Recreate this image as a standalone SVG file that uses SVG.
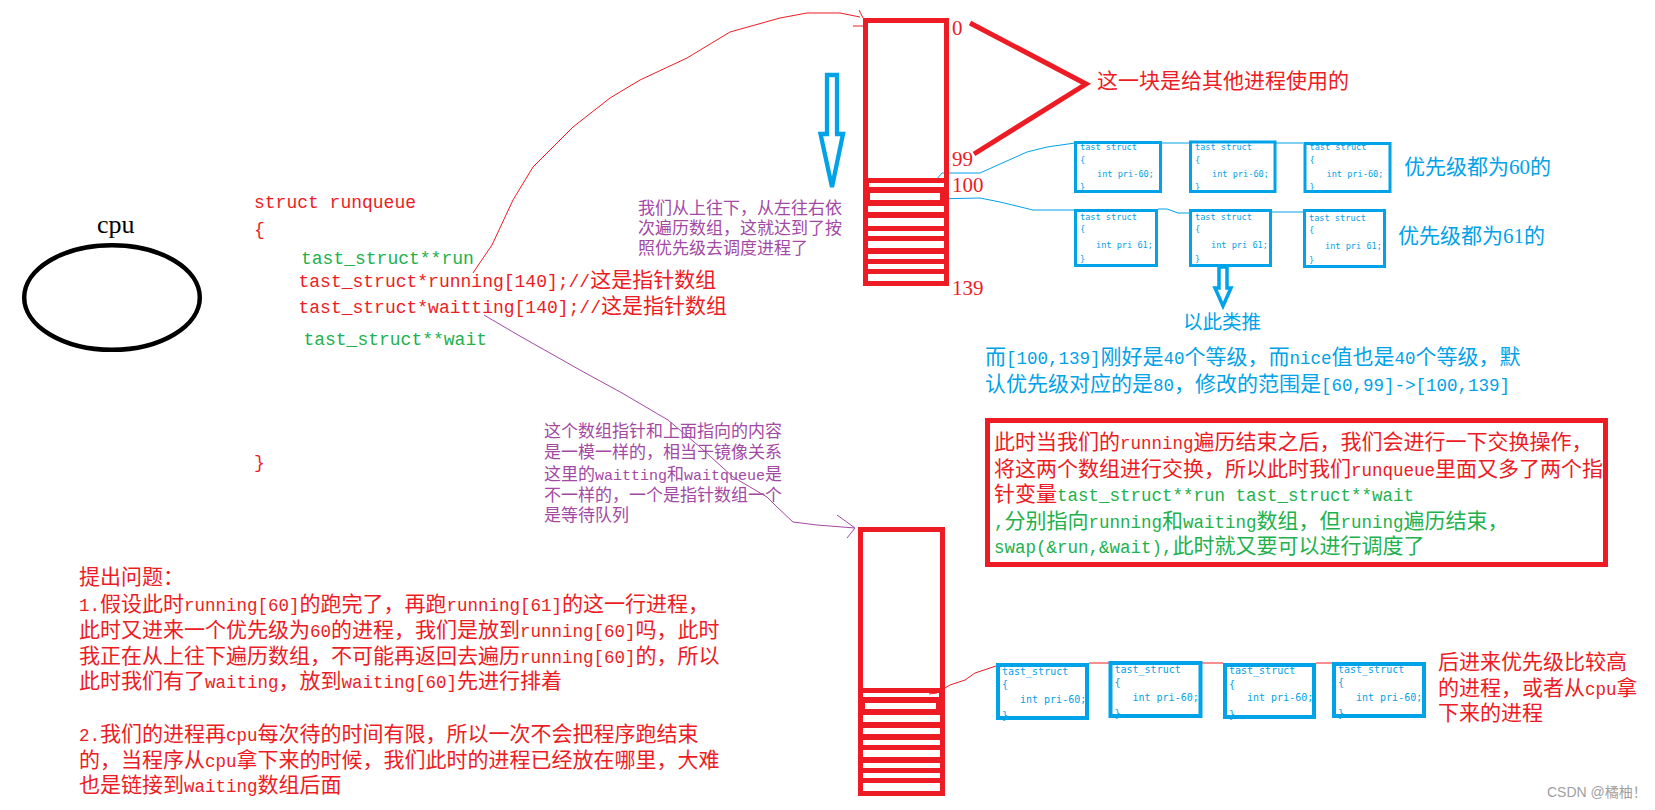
<svg xmlns="http://www.w3.org/2000/svg" width="1655" height="810" viewBox="0 0 1655 810">
<defs>
<style>
.cj{font-family:"Liberation Serif","Noto Sans CJK SC",sans-serif}
.mo{font-family:"Liberation Mono","Noto Sans CJK SC",monospace}
.l{font-family:"Liberation Mono",monospace;font-size:17.5px}
.l15{font-family:"Liberation Mono",monospace;font-size:15px}
.red{fill:#ed1c24}
.grn{fill:#22b14c}
.blu{fill:#00a2e8}
.pur{fill:#a349a4}
.num{font-family:"Liberation Serif",serif;font-size:21px;fill:#ed1c24}
.bx{font-family:"DejaVu Sans Mono",monospace;fill:#00a2e8}
.bxr{fill:none;stroke:#00a2e8}
.slit{fill:#fff}
.arr{fill:none;stroke:#ed1c24;stroke-width:5}
</style>
</defs>
<rect width="1655" height="810" fill="#fff"/>

<g id="connectors" fill="none">
  <path d="M473,273 L477,267 L492,245 L513,200 L533,167 L553,147 L573,127 L610,98 L640,80 L687,58 L730,32 L780,18 L807,13 L840,13 L860,17 M859,10 L863,18 M853,26 L863,26" stroke="#ed1c24" stroke-width="1"/>
  <path d="M484,315 L518,335 L580,370 L622,393 L668,420 L700,447 L733,477 L767,497 L777,507 L793,522 L817,525 L855,528 M837,515 L855,528 L847,538" stroke="#a349a4" stroke-width="1"/>
  <path d="M930,187 L942,173 L980,173 L1027,152 L1047,147 L1075,143" stroke="#00a2e8" stroke-width="1"/>
  <path d="M932,199 L980,198 L1000,202 L1033,210 L1075,210" stroke="#00a2e8" stroke-width="1"/>
  <path d="M1162,143 L1189,143 M1276,143 L1303,143" stroke="#00a2e8" stroke-width="1"/>
  <path d="M1158,209 L1167,209 L1178,213 L1189,213 M1272,212 L1303,212" stroke="#00a2e8" stroke-width="1"/>
  <path d="M929,694 L937,693 L945,688 L950,685 L965,680 L975,673 L987,669 L996,666" stroke="#ed1c24" stroke-width="1"/>
  <path d="M1089,663 L1109,663 M1202,663 L1223,663 M1316,663 L1332,663" stroke="#ed1c24" stroke-width="1"/>
  <polyline points="970,23 1086,84 974,154" class="arr"/>
  <polygon points="827,75 837,75 837,134 843,134 832,187 820.5,134 827,134" fill="#fff" stroke="#00a2e8" stroke-width="4.3"/>
  <polygon points="1219,267 1227,267 1227,288 1231,288 1223,306 1215,288 1219,288" fill="#fff" stroke="#00a2e8" stroke-width="3.5"/>
</g>

<g id="cpu">
  <ellipse cx="112" cy="297.5" rx="87.8" ry="52.3" fill="none" stroke="#000" stroke-width="4.5"/>
  <text x="97" y="233" font-family="Liberation Serif,serif" font-size="26" fill="#000">cpu</text>
</g>

<g id="runqueue" class="mo" font-size="18">
  <text x="254" y="208" class="red">struct runqueue</text>
  <text x="254" y="235" class="red">{</text>
  <text x="301" y="264" class="grn">tast_struct**run</text>
  <text x="298.5" y="287" class="red">tast_struct*running[140];//<tspan class="cj" font-size="21">这是指针数组</tspan></text>
  <text x="298.5" y="313" class="red">tast_struct*waitting[140];//<tspan class="cj" font-size="21">这是指针数组</tspan></text>
  <text x="303.4" y="345" class="grn">tast_struct**wait</text>
  <text x="254" y="468" class="red">}</text>
</g>

<g id="running-array">
  <rect x="863" y="178" width="86" height="108" fill="#ed1c24"/>
  <rect x="869" y="183" width="75" height="4" class="slit"/>
  <rect x="870" y="193" width="70" height="7" class="slit"/>
  <rect x="868" y="206" width="76" height="6" class="slit"/>
  <rect x="868" y="218" width="76" height="8" class="slit"/>
  <rect x="868" y="231" width="76" height="5" class="slit"/>
  <rect x="868" y="241" width="76" height="7" class="slit"/>
  <rect x="868" y="254" width="76" height="5" class="slit"/>
  <rect x="868" y="264" width="76" height="5" class="slit"/>
  <rect x="868" y="274" width="76" height="8" class="slit"/>
  <rect x="865.5" y="20.5" width="81" height="263" fill="none" stroke="#ed1c24" stroke-width="5"/>
  <text x="952" y="35" class="num">0</text>
  <text x="952" y="166" class="num">99</text>
  <text x="952" y="192" class="num">100</text>
  <text x="952" y="295" class="num">139</text>
</g>

<g id="waiting-array">
  <rect x="858" y="688" width="87" height="108" fill="#ed1c24"/>
  <rect x="863" y="693" width="76" height="4" class="slit"/>
  <rect x="865" y="703" width="71" height="6" class="slit"/>
  <rect x="863" y="715" width="77" height="7" class="slit"/>
  <rect x="863" y="728" width="77" height="6" class="slit"/>
  <rect x="863" y="740" width="77" height="5" class="slit"/>
  <rect x="863" y="750" width="77" height="7" class="slit"/>
  <rect x="863" y="763" width="77" height="5" class="slit"/>
  <rect x="863" y="773" width="77" height="5" class="slit"/>
  <rect x="863" y="783" width="77" height="8" class="slit"/>
  <rect x="860.5" y="529.5" width="82" height="264" fill="none" stroke="#ed1c24" stroke-width="5"/>
  <path d="M929,694 L937,693" stroke="#ed1c24" stroke-width="1"/>
</g>

<g id="pri60-row" class="bx" font-size="8.6">
  <g id="p60a">
    <text x="1080" y="150">tast struct</text><text x="1080" y="163">{</text><text x="1097" y="177">int pri-60;</text><text x="1080" y="190">}</text>
    <rect x="1075.5" y="142.5" width="85" height="49" class="bxr" stroke-width="3"/>
  </g>
  <g id="p60b">
    <text x="1195" y="150">tast struct</text><text x="1195" y="163">{</text><text x="1212" y="177">int pri-60;</text><text x="1195" y="190">}</text>
    <rect x="1190.5" y="142" width="84.5" height="49.5" class="bxr" stroke-width="3"/>
  </g>
  <g id="p60c">
    <text x="1309.5" y="150">tast struct</text><text x="1309.5" y="163">{</text><text x="1326.5" y="177">int pri-60;</text><text x="1309.5" y="190">}</text>
    <rect x="1305" y="143.5" width="85" height="48" class="bxr" stroke-width="3"/>
  </g>
</g>

<g id="pri61-row" class="bx" font-size="8.6">
  <g id="p61a">
    <text x="1080" y="220">tast struct</text><text x="1080" y="232">{</text><text x="1096" y="248">int pri 61;</text><text x="1080" y="262">}</text>
    <rect x="1075.5" y="210.5" width="81" height="55" class="bxr" stroke-width="3"/>
  </g>
  <g id="p61b">
    <text x="1195" y="220">tast struct</text><text x="1195" y="232">{</text><text x="1211" y="248">int pri 61;</text><text x="1195" y="262">}</text>
    <rect x="1190.5" y="210.5" width="80" height="55" class="bxr" stroke-width="3"/>
  </g>
  <g id="p61c">
    <text x="1309" y="221">tast struct</text><text x="1309" y="233">{</text><text x="1325" y="249">int pri 61;</text><text x="1309" y="263">}</text>
    <rect x="1304.5" y="210.5" width="80" height="56" class="bxr" stroke-width="3"/>
  </g>
</g>

<g id="waiting-row" class="bx" font-size="10">
  <g id="w1">
    <text x="1002" y="675">tast_struct</text><text x="1002" y="688">{</text><text x="1020" y="703">int pri-60;</text><text x="1002" y="719">}</text>
    <rect x="998" y="665" width="89" height="53" class="bxr" stroke-width="4"/>
  </g>
  <g id="w2">
    <text x="1114.5" y="673">tast_struct</text><text x="1114.5" y="686">{</text><text x="1132.5" y="701">int pri-60;</text><text x="1114.5" y="717">}</text>
    <rect x="1110.5" y="663" width="90" height="53" class="bxr" stroke-width="4"/>
  </g>
  <g id="w3">
    <text x="1229" y="674">tast_struct</text><text x="1229" y="688">{</text><text x="1247" y="701">int pri-60;</text><text x="1229" y="718">}</text>
    <rect x="1225" y="665" width="89" height="52" class="bxr" stroke-width="4"/>
  </g>
  <g id="w4">
    <text x="1338" y="673">tast_struct</text><text x="1338" y="686">{</text><text x="1356" y="701">int pri-60;</text><text x="1338" y="717">}</text>
    <rect x="1334" y="664" width="90" height="52" class="bxr" stroke-width="4"/>
  </g>
</g>

<g id="notes" class="cj">
  <text x="1097" y="88" font-size="21" class="red">这一块是给其他进程使用的</text>
  <text x="1404" y="174" font-size="21" class="blu">优先级都为60的</text>
  <text x="1398" y="243" font-size="21" class="blu">优先级都为61的</text>
  <text x="1183" y="329" font-size="19.5" class="blu">以此类推</text>

  <g class="pur" font-size="17">
    <text x="638" y="214">我们从上往下，从左往右依</text>
    <text x="638" y="234">次遍历数组，这就达到了按</text>
    <text x="638" y="254">照优先级去调度进程了</text>
  </g>

  <g class="pur" font-size="17">
    <text x="544" y="437">这个数组指针和上面指向的内容</text>
    <text x="544" y="458">是一模一样的，相当于镜像关系</text>
    <text x="544" y="480">这里的<tspan class="l15">waitting</tspan>和<tspan class="l15">waitqueue</tspan>是</text>
    <text x="544" y="501">不一样的，一个是指针数组一个</text>
    <text x="544" y="521">是等待队列</text>
  </g>

  <g class="blu" font-size="21">
    <text x="985" y="364">而<tspan class="l">[100,139]</tspan>刚好是<tspan class="l">40</tspan>个等级，而<tspan class="l">nice</tspan>值也是<tspan class="l">40</tspan>个等级，默</text>
    <text x="985" y="391">认优先级对应的是<tspan class="l">80</tspan>，修改的范围是<tspan class="l">[60,99]-&gt;[100,139]</tspan></text>
  </g>

  <g id="swap-note">
    <rect x="987.5" y="420.5" width="618" height="144" fill="none" stroke="#ed1c24" stroke-width="5"/>
    <g font-size="21">
      <text x="994" y="449" class="red">此时当我们的<tspan class="l">running</tspan>遍历结束之后，我们会进行一下交换操作，</text>
      <text x="994" y="476" class="red">将这两个数组进行交换，所以此时我们<tspan class="l">runqueue</tspan>里面又多了两个指</text>
      <text x="994" y="501" class="red">针变量<tspan class="l grn">tast_struct**run tast_struct**wait</tspan></text>
      <text x="994" y="528" class="grn"><tspan class="l">,</tspan>分别指向<tspan class="l">running</tspan>和<tspan class="l">waiting</tspan>数组，但<tspan class="l">runing</tspan>遍历结束，</text>
      <text x="994" y="553" class="grn"><tspan class="l">swap(&amp;run,&amp;wait),</tspan>此时就又要可以进行调度了</text>
    </g>
  </g>

  <g class="red" font-size="21">
    <text x="79" y="584">提出问题：</text>
    <text x="79" y="611"><tspan class="l">1.</tspan>假设此时<tspan class="l">running[60]</tspan>的跑完了，再跑<tspan class="l">running[61]</tspan>的这一行进程，</text>
    <text x="79" y="637">此时又进来一个优先级为<tspan class="l">60</tspan>的进程，我们是放到<tspan class="l">running[60]</tspan>吗，此时</text>
    <text x="79" y="663">我正在从上往下遍历数组，不可能再返回去遍历<tspan class="l">running[60]</tspan>的，所以</text>
    <text x="79" y="688">此时我们有了<tspan class="l">waiting</tspan>，放到<tspan class="l">waiting[60]</tspan>先进行排着</text>
    <text x="79" y="741"><tspan class="l">2.</tspan>我们的进程再<tspan class="l">cpu</tspan>每次待的时间有限，所以一次不会把程序跑结束</text>
    <text x="79" y="767">的，当程序从<tspan class="l">cpu</tspan>拿下来的时候，我们此时的进程已经放在哪里，大难</text>
    <text x="79" y="792">也是链接到<tspan class="l">waiting</tspan>数组后面</text>
  </g>

  <g class="red" font-size="21">
    <text x="1438" y="669">后进来优先级比较高</text>
    <text x="1438" y="695">的进程，或者从<tspan class="l">cpu</tspan>拿</text>
    <text x="1438" y="720">下来的进程</text>
  </g>

  <text x="1547" y="797" font-family="Liberation Sans,Noto Sans CJK SC,sans-serif" font-size="14" fill="#a0a0a0">CSDN @橘柚！</text>
</g>
</svg>
